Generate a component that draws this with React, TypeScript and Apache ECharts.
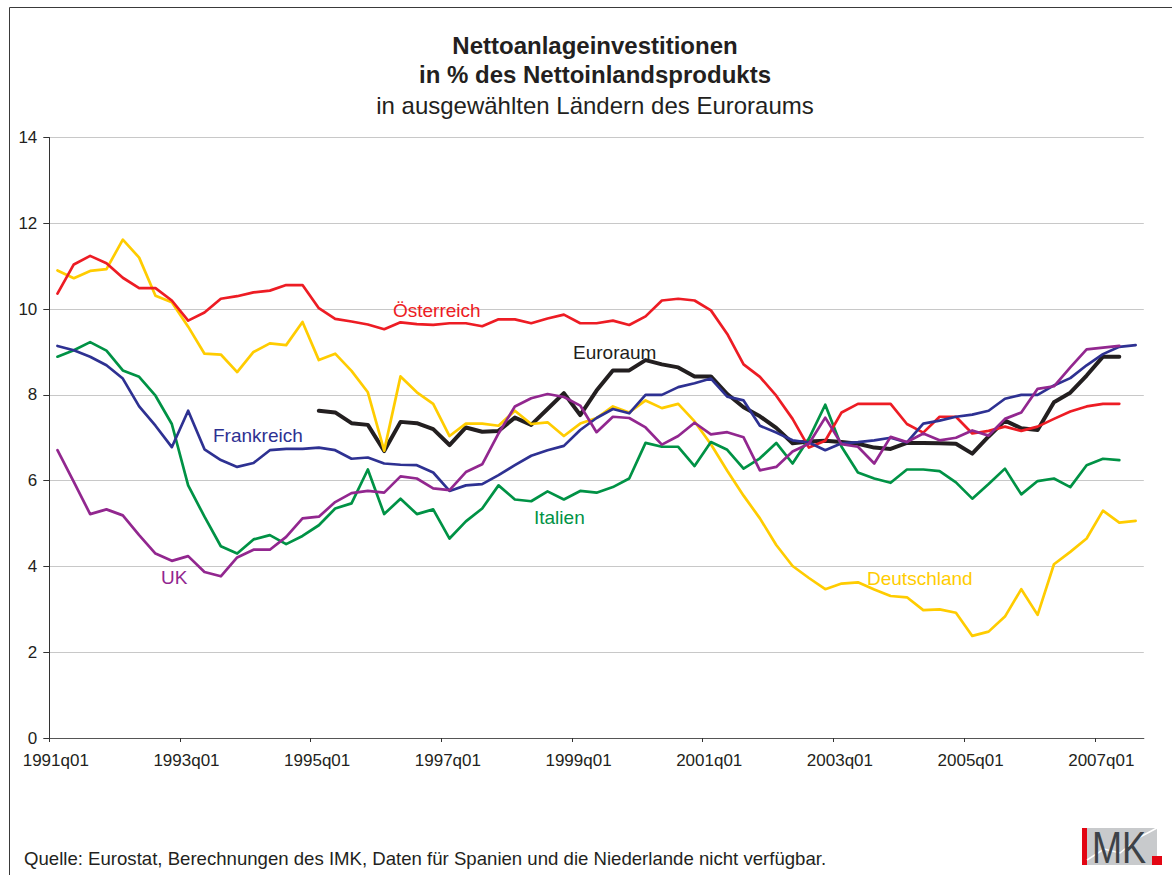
import React, { useEffect, useRef } from "react";
import * as echarts from "echarts";

// Quarter categories 1991q01 .. 2007q03 (67 quarters)
const years = [1991, 1992, 1993, 1994, 1995, 1996, 1997, 1998, 1999, 2000, 2001, 2002, 2003, 2004, 2005, 2006, 2007];
const quarterNames = ["q01", "q02", "q03", "q04"];
const categories: string[] = [];
years.forEach((y) => quarterNames.forEach((q) => categories.push(`${y}${q}`)));
categories.length = 67;

const tickLabels = ["1991q01", "1993q01", "1995q01", "1997q01", "1999q01", "2001q01", "2003q01", "2005q01", "2007q01"];
const tickStep = 8;

const osterreich = [
  10.36, 11.04, 11.24, 11.07, 10.73, 10.49, 10.49, 10.2, 9.73, 9.92,
  10.24, 10.3, 10.39, 10.43, 10.56, 10.56, 10.02, 9.77, 9.71, 9.64,
  9.53, 9.69, 9.65, 9.63, 9.67, 9.67, 9.6, 9.76, 9.76, 9.67,
  9.78, 9.87, 9.67, 9.67, 9.73, 9.63, 9.83, 10.2, 10.24, 10.2,
  9.97, 9.42, 8.71, 8.42, 7.98, 7.44, 6.77, 6.93, 7.59, 7.79,
  7.79, 7.79, 7.32, 7.12, 7.49, 7.49, 7.1, 7.16, 7.26, 7.16,
  7.26, 7.44, 7.61, 7.73, 7.79, 7.79, null,
];

const deutschland = [
  10.9, 10.72, 10.89, 10.93, 11.62, 11.2, 10.31, 10.16, 9.59, 8.96,
  8.94, 8.53, 9.0, 9.2, 9.16, 9.7, 8.81, 8.96, 8.56, 8.06,
  6.7, 8.43, 8.06, 7.79, 7.04, 7.33, 7.33, 7.28, 7.63, 7.32,
  7.36, 7.04, 7.33, 7.46, 7.73, 7.59, 7.87, 7.69, 7.79, 7.38,
  6.85, 6.23, 5.65, 5.12, 4.5, 4.01, 3.73, 3.47, 3.6, 3.63,
  3.46, 3.31, 3.28, 2.98, 3.0, 2.92, 2.38, 2.48, 2.83, 3.47,
  2.87, 4.05, 4.34, 4.65, 5.3, 5.02, 5.06,
];

const frankreich = [
  9.14, 9.04, 8.89, 8.69, 8.38, 7.73, 7.28, 6.78, 7.63, 6.73,
  6.48, 6.32, 6.41, 6.71, 6.74, 6.74, 6.77, 6.71, 6.51, 6.54,
  6.4, 6.37, 6.36, 6.19, 5.76, 5.89, 5.92, 6.13, 6.36, 6.58,
  6.71, 6.81, 7.18, 7.46, 7.67, 7.57, 8.0, 8.0, 8.18, 8.27,
  8.38, 7.96, 7.87, 7.28, 7.12, 6.94, 6.89, 6.71, 6.87, 6.9,
  6.94, 7.0, 6.89, 7.33, 7.4, 7.49, 7.54, 7.63, 7.91, 8.0,
  8.0, 8.22, 8.39, 8.69, 8.95, 9.12, 9.16,
];

const italien = [
  8.89, 9.04, 9.23, 9.03, 8.57, 8.42, 7.98, 7.32, 5.89, 5.16,
  4.47, 4.3, 4.63, 4.73, 4.52, 4.71, 4.96, 5.35, 5.47, 6.26,
  5.22, 5.58, 5.22, 5.33, 4.65, 5.05, 5.35, 5.89, 5.56, 5.52,
  5.75, 5.56, 5.76, 5.72, 5.85, 6.05, 6.88, 6.79, 6.79, 6.34,
  6.9, 6.72, 6.28, 6.52, 6.88, 6.4, 6.98, 7.77, 6.79, 6.19,
  6.05, 5.95, 6.26, 6.26, 6.22, 5.96, 5.58, 5.92, 6.28, 5.68,
  5.99, 6.05, 5.85, 6.36, 6.51, 6.48, null,
];

const uk = [
  6.71, 5.97, 5.22, 5.33, 5.19, 4.73, 4.3, 4.13, 4.24, 3.87,
  3.77, 4.21, 4.39, 4.39, 4.69, 5.12, 5.16, 5.5, 5.71, 5.76,
  5.72, 6.1, 6.05, 5.82, 5.78, 6.2, 6.38, 7.1, 7.73, 7.92,
  8.02, 7.95, 7.75, 7.13, 7.49, 7.46, 7.24, 6.84, 7.04, 7.35,
  7.08, 7.13, 7.01, 6.24, 6.32, 6.68, 6.86, 7.47, 6.85, 6.79,
  6.4, 7.02, 6.9, 7.1, 6.94, 7.0, 7.17, 7.05, 7.44, 7.59,
  8.14, 8.2, 8.64, 9.06, 9.1, 9.14, null,
];

const euroraum = [
  null, null, null, null, null, null, null, null, null, null,
  null, null, null, null, null, null, 7.63, 7.59, 7.34, 7.3,
  6.69, 7.37, 7.34, 7.2, 6.83, 7.24, 7.14, 7.16, 7.47, 7.3,
  7.67, 8.04, 7.53, 8.1, 8.57, 8.57, 8.81, 8.71, 8.64, 8.43,
  8.43, 8.02, 7.71, 7.5, 7.23, 6.87, 6.91, 6.93, 6.9, 6.86,
  6.77, 6.74, 6.88, 6.88, 6.87, 6.86, 6.63, 7.03, 7.4, 7.22,
  7.18, 7.83, 8.05, 8.45, 8.89, 8.89, null,
];

const FONT = '"Liberation Sans", Arial, Helvetica, sans-serif';

const seriesDefs = [
  { name: "Euroraum", data: euroraum, color: "#231f20", width: 4 },
  { name: "Deutschland", data: deutschland, color: "#ffcc00", width: 2.7 },
  { name: "Italien", data: italien, color: "#009245", width: 2.7 },
  { name: "Österreich", data: osterreich, color: "#ed1c24", width: 2.7 },
  { name: "Frankreich", data: frankreich, color: "#2e3192", width: 2.7 },
  { name: "UK", data: uk, color: "#92278f", width: 2.7 },
];

const seriesLabels = [
  { text: "Österreich", x: 393, y: 310, color: "#ed1c24" },
  { text: "Euroraum", x: 573, y: 352, color: "#231f20" },
  { text: "Frankreich", x: 213, y: 435, color: "#2e3192" },
  { text: "UK", x: 161, y: 577, color: "#92278f" },
  { text: "Italien", x: 534, y: 517, color: "#009245" },
  { text: "Deutschland", x: 867, y: 578, color: "#ffcc00" },
];

export default function App() {
  const ref = useRef<HTMLDivElement>(null);

  useEffect(() => {
    if (!ref.current) return;
    const chart = echarts.init(ref.current, undefined, { renderer: "svg" });
    const tickValues = tickLabels.map((_, k) => k * tickStep);

    const titleStyle = (text: string, y: number, weight: string) => ({
      type: "text",
      style: {
        text, x: 595, y,
        textAlign: "center", textVerticalAlign: "middle", align: "center", verticalAlign: "middle",
        font: `${weight} 24px ${FONT}`, fill: "#231f20",
      },
    });

    const option: any = {
      animation: false,
      backgroundColor: "#ffffff",
      grid: { left: 49.3, width: 1094.5, top: 137.5, height: 600.5, containLabel: false },
      xAxis: {
        type: "value",
        min: 0,
        max: categories.length,
        interval: tickStep,
        splitLine: { show: false },
        axisLine: { show: true, lineStyle: { color: "#555", width: 1.2 } },
        axisTick: { show: true, length: 4, customValues: tickValues, lineStyle: { color: "#333" } },
        axisLabel: {
          customValues: tickValues,
          formatter: (v: number) => tickLabels[Math.round(v / tickStep)] ?? "",
          fontFamily: FONT,
          fontSize: 17,
          color: "#231f20",
          margin: 14,
          padding: [0, 0, 0, 13],
        },
      },
      yAxis: {
        type: "value",
        min: 0,
        max: 14,
        interval: 2,
        axisLine: { show: true, lineStyle: { color: "#333", width: 1 } },
        axisTick: { show: true, length: 6, lineStyle: { color: "#333" } },
        splitLine: { show: true, lineStyle: { color: "#c8c8c8", width: 1 } },
        axisLabel: { fontFamily: FONT, fontSize: 17, color: "#231f20", margin: 12 },
      },
      series: seriesDefs.map((s) => ({
        name: s.name,
        type: "line",
        showSymbol: false,
        symbol: "none",
        data: s.data
          .map((v, i) => (v === null ? null : [i + 0.5, v]))
          .filter((d) => d !== null),
        lineStyle: { color: s.color, width: s.width, join: "round", cap: "round" },
        itemStyle: { color: s.color },
        z: 2,
      })),
      graphic: [
        {
          type: "rect",
          shape: { x: 9.5, y: 7.5, width: 1200, height: 900 },
          style: { fill: "none", stroke: "#3a3a3a", lineWidth: 1 },
          silent: true,
          z: -1,
        },
        titleStyle("Nettoanlageinvestitionen", 45, "bold"),
        titleStyle("in % des Nettoinlandsprodukts", 74, "bold"),
        titleStyle("in ausgewählten Ländern des Euroraums", 105, "normal"),
        ...seriesLabels.map((l) => ({
          type: "text",
          z: 10,
          style: { text: l.text, x: l.x, y: l.y, textAlign: "left", textVerticalAlign: "middle", align: "left", verticalAlign: "middle", font: `normal 19px ${FONT}`, fill: l.color },
        })),
        {
          type: "text",
          style: { text: "Quelle: Eurostat, Berechnungen des IMK, Daten für Spanien und die Niederlande nicht verfügbar.", x: 24, y: 858, textAlign: "left", textVerticalAlign: "middle", align: "left", verticalAlign: "middle", font: `normal 18.6px ${FONT}`, fill: "#231f20" },
        },
        { type: "rect", shape: { x: 1087, y: 828, width: 70, height: 37 }, style: { fill: "#c8cacc" } },
        { type: "rect", shape: { x: 1082, y: 828, width: 5, height: 37 }, style: { fill: "#e30613" } },
        {
          type: "polyline",
          shape: { points: [[1087, 860], [1104, 849], [1120, 853], [1140, 837], [1157, 828]] },
          style: { stroke: "#ffffff", lineWidth: 1.5, fill: "none" },
        },
        {
          type: "text",
          x: 1092,
          y: 848,
          scaleX: 0.82,
          style: { text: "MK", x: 0, y: 0, textAlign: "left", textVerticalAlign: "middle", align: "left", verticalAlign: "middle", font: `normal 44px ${FONT}`, fill: "#3d4247" },
        },
        { type: "rect", shape: { x: 1152, y: 856, width: 10, height: 9 }, style: { fill: "#e30613" } },
      ],
    };

    chart.setOption(option);
    return () => chart.dispose();
  }, []);

  return (
    <div
      ref={ref}
      style={{ position: "fixed", left: 0, top: 0, width: 1172, height: 875, background: "#fff" }}
    />
  );
}
